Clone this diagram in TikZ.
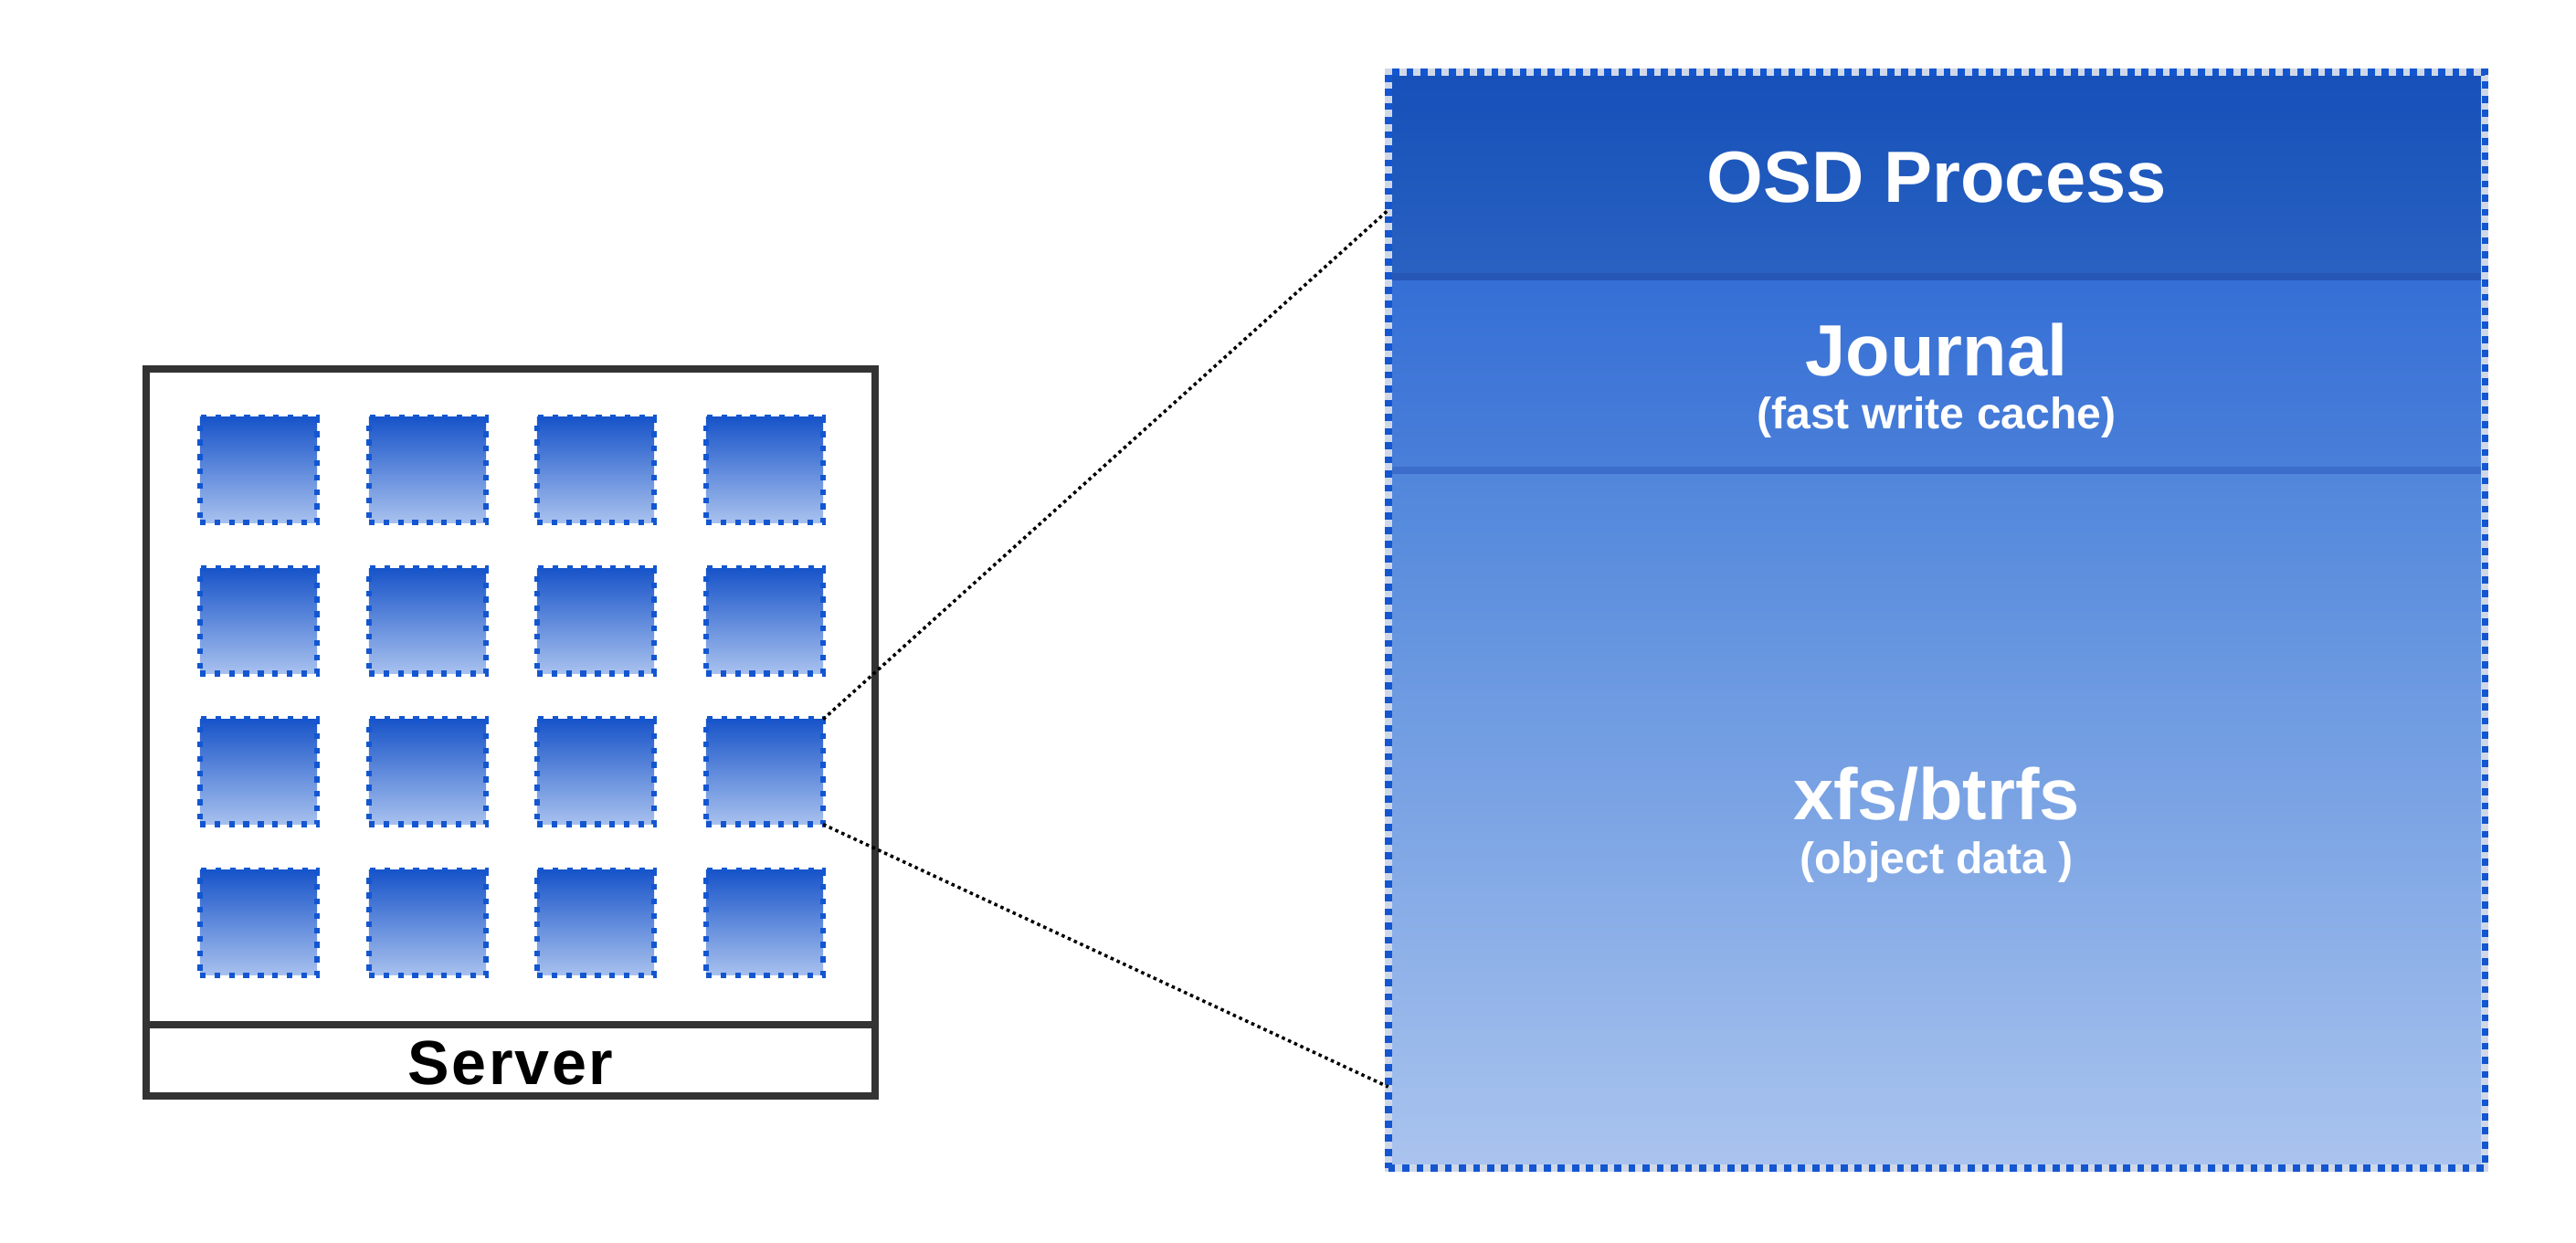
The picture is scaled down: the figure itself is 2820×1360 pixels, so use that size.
\documentclass[tikz,border=0pt]{standalone}
\usepackage{fontspec}
\setmainfont{Liberation Sans}
\newfontfamily\serverfont[LetterSpace=3.5]{Liberation Sans}
\definecolor{dotblue}{HTML}{1356D0}
\definecolor{celltop}{HTML}{1854C9}
\definecolor{cellbot}{HTML}{A8C1EE}
\definecolor{sonet}{HTML}{1650B9}
\definecolor{soneb}{HTML}{2962C1}
\definecolor{stwot}{HTML}{356FD6}
\definecolor{stwob}{HTML}{4A7FD9}
\definecolor{sthrt}{HTML}{5086DB}
\definecolor{sthrb}{HTML}{AAC4EE}
\definecolor{divone}{HTML}{2757B6}
\definecolor{divtwo}{HTML}{3C6DCA}
\definecolor{gapgray}{HTML}{D0D8E8}
\definecolor{srvgray}{HTML}{333333}
\tikzset{
  cell/.style={draw=dotblue, line width=1.8pt, dash pattern=on 1.8pt off 2.7pt,
    top color=celltop, bottom color=cellbot, minimum width=1.28cm, minimum height=1.15cm,
    inner sep=0pt, outer sep=0pt},
  zoomline/.style={draw=black, line width=1pt, dash pattern=on 1pt off 1.1pt},
  bigtxt/.style={text=white, font=\bfseries\fontsize{22.6}{26}\selectfont, inner sep=0pt, anchor=base},
  smalltxt/.style={text=white, font=\bfseries\fontsize{13.7}{16}\selectfont, inner sep=0pt, anchor=base},
  srvbox/.style={draw=srvgray, line width=2.3pt, minimum width=7.98cm, minimum height=7.96cm,
    inner sep=0pt, outer sep=0pt},
  osdbox/.style={draw=dotblue, line width=2.2pt, dash pattern=on 2.2pt off 2.2pt,
    minimum width=12cm, minimum height=12cm, inner sep=0pt, outer sep=0pt},
}
\begin{document}
\begin{tikzpicture}[x=0.01cm, y=-0.01cm]
\useasboundingbox[fill=white] (0,0) rectangle (2820,1360);
% server
\node[srvbox] (server) at (559,802) {};
\draw[draw=srvgray, line width=2.3pt] (server.west |- 0,1122) -- (server.east |- 0,1122);
\node[text=black, font=\bfseries\serverfont\fontsize{19.4}{22}\selectfont, inner sep=0pt, anchor=base] (srvlabel) at (559,1187) {Server};
% cells
\foreach \r/\yy in {1/514.5,2/679.8,3/845.1,4/1010.4}{
  \foreach \c/\xx in {1/283,2/468,3/652,4/837}{
    \node[cell] (s\r\c) at (\xx,\yy) {};
  }
}
% osd sections
\shade[top color=sonet, bottom color=soneb] (1520,79) rectangle (2720,303);
\shade[top color=stwot, bottom color=stwob] (1520,303) rectangle (2720,515);
\shade[top color=sthrt, bottom color=sthrb] (1520,515) rectangle (2720,1279);
\draw[divone, line width=2.2pt] (1520,303) -- (2720,303);
\draw[divtwo, line width=2.2pt] (1520,515) -- (2720,515);
\draw[gapgray, line width=2.2pt] (1520,79) rectangle (2720,1279);
\node[osdbox] (osd) at (2120,679) {};
% texts
\node[bigtxt] (osdproc) at (2120,221) {OSD Process};
\node[bigtxt] (journal) at (2120,411) {Journal};
\node[smalltxt] (jsub) at (2120,469) {(fast write cache)};
\node[bigtxt] (fs) at (2120,897) {xfs/btrfs};
\node[smalltxt] (fssub) at (2120,956) {(object data )};
% zoom connectors
\coordinate (cone) at (osd.west |- 0,230);
\coordinate (ctwo) at (osd.west |- 0,1190);
\draw[zoomline] (s34.north east) -- (cone);
\draw[zoomline] (s34.south east) -- (ctwo);
\end{tikzpicture}
\end{document}
